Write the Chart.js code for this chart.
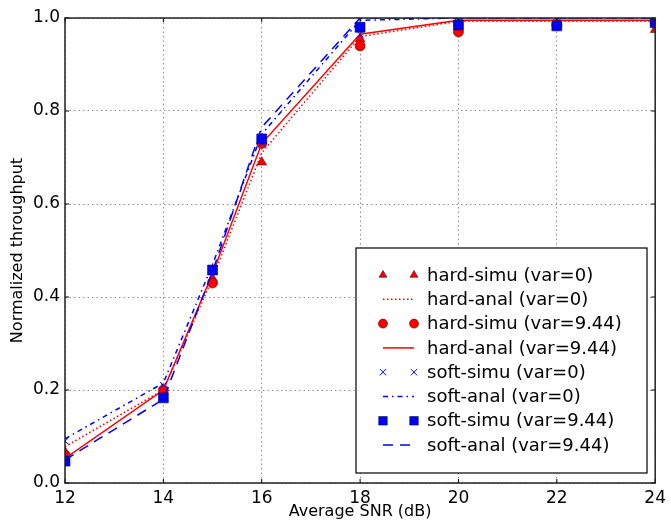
<!DOCTYPE html>
<html>
<head>
<meta charset="utf-8">
<script src="https://cdn.jsdelivr.net/npm/chart.js@4/dist/chart.umd.min.js"></script>
<style>
  body { margin: 0; background: #fff; }
  #wrap { width: 671px; height: 521px; }
</style>
</head>
<body>
<div id="wrap"><canvas id="chart" width="671" height="521"></canvas></div>
<script>
// average SNR (dB)
const snr = [12, 14, 15, 16, 18, 20, 22, 24];
const yTicks = [0, 0.2, 0.4, 0.6, 0.8, 1.0];

const hardSimu0   = [0.067, 0.20, 0.44, 0.69, 0.955, 0.99, 0.99, 0.975];
const hardAnal0   = [0.078, 0.20, 0.44, 0.71, 0.96, 0.993, 0.993, 0.993];
const hardSimu944 = [0.06, 0.20, 0.43, 0.73, 0.94, 0.97, 0.985, 0.99];
const hardAnal944 = [0.053, 0.20, 0.45, 0.73, 0.965, 0.995, 0.995, 0.995];
const softSimu0   = [0.09, 0.21, 0.46, 0.73, 0.965, 0.99, 0.99, 0.99];
const softAnal0   = [0.095, 0.215, 0.47, 0.75, 0.995, 1.0, 1.0, 1.0];
const softSimu944 = [0.047, 0.183, 0.458, 0.74, 0.98, 0.985, 0.983, 0.99];
const softAnal944 = [0.05, 0.18, 0.455, 0.765, 1.0, 1.0, 1.0, 1.0];

const labels = [
  'hard-simu (var=0)', 'hard-anal (var=0)', 'hard-simu (var=9.44)', 'hard-anal (var=9.44)',
  'soft-simu (var=0)', 'soft-anal (var=0)', 'soft-simu (var=9.44)', 'soft-anal (var=9.44)'
];

const RED = '#ff0000';
const BLUE = '#0000ff';
const FONT = "'DejaVu Sans', sans-serif";

function pts(arr) {
  return snr.map((x, i) => ({ x: x, y: arr[i] }));
}

function markerSet(label, arr, color, style, r) {
  return {
    label: label, data: pts(arr), showLine: false,
    pointStyle: style, pointRadius: r, pointHoverRadius: r,
    backgroundColor: color, borderColor: style === 'crossRot' ? color : '#400000',
    pointBorderWidth: style === 'crossRot' ? 1 : 0.6, clip: 0
  };
}

function lineSet(label, arr, color, dash) {
  return {
    label: label, data: pts(arr), showLine: true, pointRadius: 0,
    borderColor: color, borderWidth: 1.5, borderDash: dash, fill: false,
    tension: 0, clip: 0
  };
}

// same plotting order as the legend: marks then their line
const dsList = [
  markerSet(labels[0], hardSimu0, RED, 'triangle', 5.5),
  lineSet(labels[1], hardAnal0, RED, [1.5, 2.5]),
  markerSet(labels[2], hardSimu944, RED, 'circle', 5),
  lineSet(labels[3], hardAnal944, RED, []),
  markerSet(labels[4], softSimu0, BLUE, 'crossRot', 5),
  lineSet(labels[5], softAnal0, BLUE, [5, 4, 1.5, 4]),
  markerSet(labels[6], softSimu944, BLUE, 'rect', 7),
  lineSet(labels[7], softAnal944, BLUE, [10, 7])
];
dsList[6].borderColor = '#000040';
dsList.forEach((ds, i) => { ds.order = dsList.length - i; });

// frame, inner ticks and the boxed legend drawn like matplotlib
const framePlugin = {
  id: 'frame',
  afterDraw(chart) {
    const ctx = chart.ctx;
    const a = chart.chartArea;
    const xs = chart.scales.x, ys = chart.scales.y;
    ctx.save();
    ctx.strokeStyle = '#000';
    ctx.lineWidth = 1;
    snr.filter(v => v % 2 === 0).forEach(v => {
      const px = xs.getPixelForValue(v);
      ctx.beginPath();
      ctx.moveTo(px, a.bottom); ctx.lineTo(px, a.bottom - 4);
      ctx.moveTo(px, a.top); ctx.lineTo(px, a.top + 4);
      ctx.stroke();
    });
    yTicks.forEach(v => {
      const py = ys.getPixelForValue(v);
      ctx.beginPath();
      ctx.moveTo(a.left, py); ctx.lineTo(a.left + 4, py);
      ctx.moveTo(a.right, py); ctx.lineTo(a.right - 4, py);
      ctx.stroke();
    });
    ctx.lineWidth = 1.5;
    ctx.strokeStyle = '#222';
    ctx.strokeRect(a.left, a.top, a.right - a.left, a.bottom - a.top);

    // legend box
    const bx = 356, by = 248, bw = 291, bh = 225;
    ctx.fillStyle = '#fff';
    ctx.fillRect(bx, by, bw, bh);
    ctx.lineWidth = 1.2;
    ctx.strokeStyle = '#000';
    ctx.strokeRect(bx, by, bw, bh);

    const x1 = 383, x2 = 414, tx = 427;
    dsList.forEach((ds, row) => {
      const cy = 275 + row * 24.3;
      if (ds.showLine) {
        ctx.save();
        ctx.strokeStyle = ds.borderColor;
        ctx.lineWidth = ds.borderWidth;
        ctx.setLineDash(ds.borderDash);
        ctx.beginPath();
        ctx.moveTo(x1, cy); ctx.lineTo(x2, cy);
        ctx.stroke();
        ctx.restore();
      } else {
        const r = ds.pointStyle === 'rect' ? 6 : 4.5;
        [x1, x2].forEach(mx => {
          ctx.fillStyle = ds.backgroundColor;
          ctx.strokeStyle = ds.borderColor;
          ctx.lineWidth = ds.pointBorderWidth;
          Chart.helpers.drawPoint(ctx, { pointStyle: ds.pointStyle, radius: r, borderWidth: ds.pointBorderWidth, rotation: 0 }, mx, cy);
        });
      }
      ctx.fillStyle = '#000';
      ctx.font = '18px ' + FONT;
      ctx.textBaseline = 'middle';
      ctx.textAlign = 'left';
      ctx.fillText(ds.label, tx, cy + 1);
    });
    ctx.restore();
  }
};

new Chart(document.getElementById('chart').getContext('2d'), {
  type: 'line',
  data: { datasets: dsList },
  options: {
    responsive: false,
    animation: false,
    layout: { padding: { top: 18, right: 14, left: 0, bottom: 0 } },
    plugins: { legend: { display: false }, tooltip: { enabled: false } },
    scales: {
      x: {
        type: 'linear', min: 12, max: 24,
        afterFit(scale) { scale.height = 38; },
        afterBuildTicks(scale) { scale.ticks = [12, 14, 16, 18, 20, 22, 24].map(v => ({ value: v })); },
        ticks: { color: '#000', font: { family: FONT, size: 17 }, padding: 5, maxRotation: 0 },
        grid: { color: 'rgba(0,0,0,0.45)', lineWidth: 1, drawTicks: false },
        border: { display: false, dash: [1.5, 3] },
        title: { display: true, text: 'Average SNR (dB)', color: '#000', font: { family: FONT, size: 16 }, padding: { top: -2, bottom: 0 } }
      },
      y: {
        min: 0, max: 1,
        afterFit(scale) { scale.width = 65; },
        afterBuildTicks(scale) { scale.ticks = yTicks.map(v => ({ value: v })); },
        ticks: { color: '#000', font: { family: FONT, size: 17 }, padding: 5, callback: v => v.toFixed(1) },
        grid: { color: 'rgba(0,0,0,0.45)', lineWidth: 1, drawTicks: false },
        border: { display: false, dash: [1.5, 3] },
        title: { display: true, text: 'Normalized throughput', color: '#000', font: { family: FONT, size: 16 }, padding: { top: 8, bottom: 0 } }
      }
    }
  },
  plugins: [framePlugin]
});
</script>
</body>
</html>
